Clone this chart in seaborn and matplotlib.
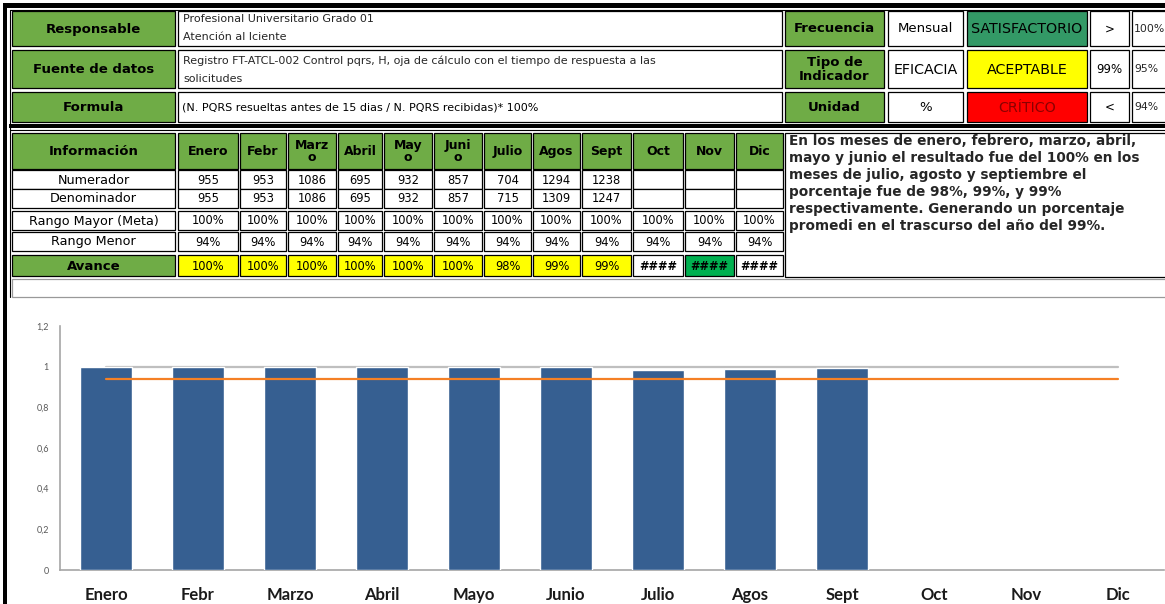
import numpy as np
import pandas as pd
import matplotlib
matplotlib.use("Agg")
import matplotlib.pyplot as plt
import seaborn as sns
from matplotlib.patches import Rectangle

# ---------------- data ----------------
months = ["Enero", "Febr", "Marzo", "Abril", "Mayo", "Junio",
          "Julio", "Agos", "Sept", "Oct", "Nov", "Dic"]
months_hdr = ["Enero", "Febr", "Marz\no", "Abril", "May\no", "Juni\no",
              "Julio", "Agos", "Sept", "Oct", "Nov", "Dic"]
numerador = ["955", "953", "1086", "695", "932", "857", "704", "1294", "1238", "", "", ""]
denominador = ["955", "953", "1086", "695", "932", "857", "715", "1309", "1247", "", "", ""]
rango_mayor_lbl = ["100%"] * 12
rango_menor_lbl = ["94%"] * 12
avance_lbl = ["100%", "100%", "100%", "100%", "100%", "100%", "98%", "99%", "99%",
              "####", "####", "####"]
avance = [1.0, 1.0, 1.0, 1.0, 1.0, 1.0, 0.985, 0.989, 0.993]   # Enero..Sept
meta = [1.0] * 12          # Rango Mayor (Meta)
rango_menor = [0.94] * 12  # Rango Menor
yticks = [0, 0.2, 0.4, 0.6, 0.8, 1.0, 1.2]
ytick_lbl = ["0", "0,2", "0,4", "0,6", "0,8", "1", "1,2"]

W, H = 1165, 604
GREEN = "#6FAC46"
BAR = "#365F91"

sns.set_style("white")
plt.rcParams["font.family"] = ["DejaVu Sans"]

fig = plt.figure(figsize=(W / 100, H / 100), dpi=100)

# ---------------- table layer (pixel coords) ----------------
tab = fig.add_axes([0, 0, 1, 1], zorder=0)
tab.set_xlim(0, W)
tab.set_ylim(H, 0)
tab.axis("off")


def cell(x0, x1, y0, y1, fc="white", text=None, bold=False, size=8.5,
         ha="center", color="black", ec="black", lw=0.9, ls=1.0):
    tab.add_patch(Rectangle((x0, y0), x1 - x0, y1 - y0, facecolor=fc,
                            edgecolor=ec, lw=lw, clip_on=True))
    if text is not None and text != "":
        x = (x0 + x1) / 2 if ha == "center" else x0 + 4
        tab.text(x, (y0 + y1) / 2 + 0.5, text, ha=ha, va="center", fontsize=size,
                 fontweight="bold" if bold else "normal", color=color,
                 linespacing=ls, clip_on=True)


# outer frame
tab.add_patch(Rectangle((3, 3), 4, H, facecolor="black", lw=0))
tab.add_patch(Rectangle((3, 3), W, 5, facecolor="black", lw=0))
tab.plot([9.5, W], [9.5, 9.5], color="black", lw=0.8)
tab.plot([9.5, 9.5], [9.5, 297], color="black", lw=0.8)
tab.add_patch(Rectangle((9, 124), W, 4, facecolor="black", lw=0))
tab.plot([9.5, W], [130, 130], color="black", lw=0.8)

# header block
rows = [(11, 46), (50, 88), (92, 122)]
labels_l = ["Responsable", "Fuente de datos", "Formula"]
for (y0, y1), lab in zip(rows, labels_l):
    cell(12, 175, y0, y1, GREEN, lab, bold=True, size=9.5)
TOP = 8.0
cell(178, 782, 11, 46)
tab.text(183, 18.5, "Profesional Universitario Grado 01", va="center", fontsize=TOP)
tab.text(183, 36.5, "Atención al lciente", va="center", fontsize=TOP)
cell(178, 782, 50, 88)
tab.text(183, 60.5, "Registro FT-ATCL-002 Control pqrs, H, oja de cálculo con el tiempo de respuesta a las",
         va="center", fontsize=TOP)
tab.text(183, 78.5, "solicitudes", va="center", fontsize=TOP)
cell(178, 782, 92, 122, text="(N. PQRS resueltas antes de 15 dias / N. PQRS recibidas)* 100%",
     ha="left", size=TOP)

right_lab = ["Frecuencia", "Tipo de\nIndicador", "Unidad"]
right_val = ["Mensual", "EFICACIA", "%"]
right_size = [9.5, 10.3, 9.5]
status = [("SATISFACTORIO", "#339966", "black"),
          ("ACEPTABLE", "#FFFF00", "black"),
          ("CRÍTICO", "#FF0000", "#8B0000")]
lim_a = [">", "99%", "<"]
lim_b = ["100%", "95%", "94%"]
for i, (y0, y1) in enumerate(rows):
    cell(785, 884, y0, y1, GREEN, right_lab[i], bold=True, size=9.5, ls=1.05)
    cell(888, 963, y0, y1, "white", right_val[i], size=right_size[i])
    cell(967, 1087, y0, y1, status[i][1], status[i][0], size=10.3, color=status[i][2])
    cell(1090, 1129, y0, y1, "white", lim_a[i], size=8.5)
    cell(1132, 1175, y0, y1, "white")
    tab.text(1134, (y0 + y1) / 2 + 0.5, lim_b[i], va="center", fontsize=7.8)

# information table
col_edges = [(178, 238), (240, 286), (288, 336), (338, 382), (384, 432), (434, 482),
             (484, 531), (533, 580), (582, 631), (633, 683), (685, 734), (736, 783)]
cell(12, 175, 133, 169, GREEN, "Información", bold=True, size=9.5)
for (x0, x1), m in zip(col_edges, months_hdr):
    cell(x0, x1, 133, 169, GREEN, m, bold=True, size=9.0, ls=0.95)

body_rows = [("Numerador", numerador, 170, 189),
             ("Denominador", denominador, 189, 208),
             ("Rango Mayor (Meta)", rango_mayor_lbl, 211, 230),
             ("Rango Menor", rango_menor_lbl, 232, 251)]
for lab, vals, y0, y1 in body_rows:
    cell(12, 175, y0, y1, "white", lab, size=9.2)
    for (x0, x1), v in zip(col_edges, vals):
        cell(x0, x1, y0, y1, "white", v, size=8.3)

cell(12, 175, 255, 276, GREEN, "Avance", bold=True, size=9.5)
for i, ((x0, x1), v) in enumerate(zip(col_edges, avance_lbl)):
    if i < len(avance):
        fc = "#FFFF00"
    elif months[i] == "Nov":
        fc = "#00B050"
    else:
        fc = "white"
    cell(x0, x1, 255, 276, fc, v, size=8.3, bold=(v == "####"))

# comment box
cell(785, 1175, 133, 277)
para = ["En los meses de enero, febrero, marzo, abril,",
        "mayo y junio el resultado fue del 100% en los",
        "meses de julio, agosto y septiembre el",
        "porcentaje fue de 98%, 99%, y 99%",
        "respectivamente. Generando un porcentaje",
        "promedi en el trascurso del año del 99%."]
for i, line in enumerate(para):
    tab.text(789, 141 + 17 * i, line, va="center", fontsize=9.8, fontweight="bold")

# blank row
cell(12, 1175, 279, 297, "white", ec="#999999", lw=0.9)

# ---------------- chart ----------------
ax = fig.add_axes([60 / W, 1 - 570 / H, 1104 / W, 244 / H], zorder=2)
ax.patch.set_alpha(0)
df = pd.DataFrame({"mes": months[:len(avance)], "avance": avance})
sns.barplot(data=df, x="mes", y="avance", order=months, color=BAR,
            saturation=1, width=0.575, ax=ax, zorder=3)
ax.plot(np.arange(len(months)), meta, color="#BFBFBF", lw=1.6, zorder=2)
ax.plot(np.arange(len(months)), rango_menor, color="#F58025", lw=1.6, zorder=4)

ax.set_xlim(-0.5, len(months) - 0.5)
ax.set_ylim(0, 1.2)
ax.set_yticks(yticks)
ax.set_yticklabels(ytick_lbl, fontsize=6.5, color="#595959", family="Lato")
ax.set_xticks(np.arange(len(months)))
ax.set_xticklabels(months, fontsize=12, fontweight="bold", color="#1A1A1A", family="Lato")
ax.tick_params(axis="x", length=0, pad=12)
ax.tick_params(axis="y", length=0, pad=8)
ax.set_xlabel("")
ax.set_ylabel("")
for s in ["top", "right"]:
    ax.spines[s].set_visible(False)
for s in ["left", "bottom"]:
    ax.spines[s].set_color("#A6A6A6")
    ax.spines[s].set_linewidth(1.2)
ax.grid(False)

fig.savefig("out.png", dpi=100)
